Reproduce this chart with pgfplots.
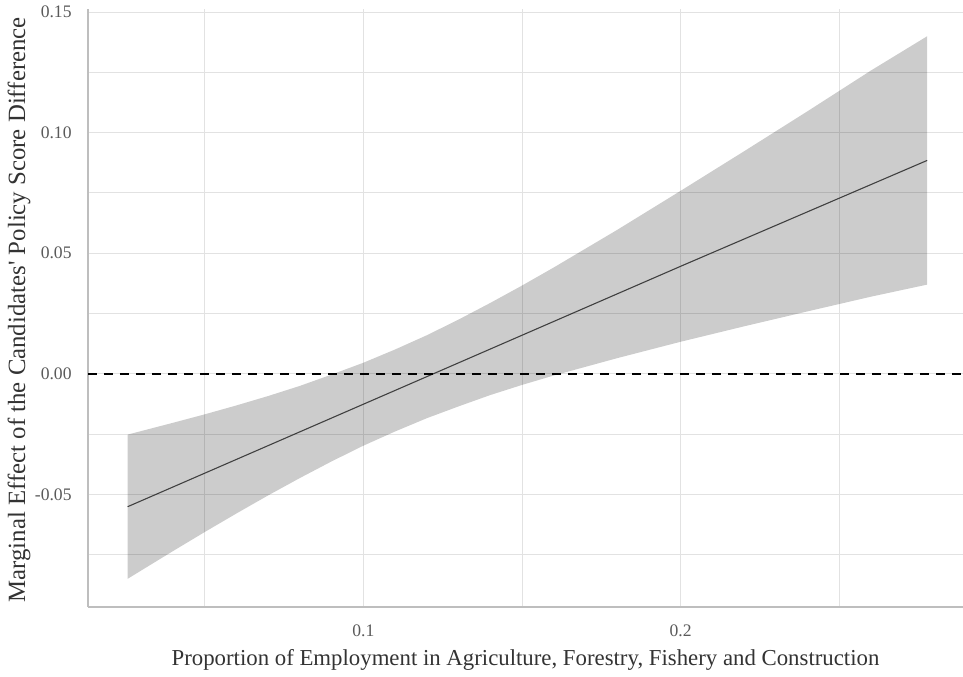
\documentclass[border=0pt]{standalone}
\usepackage{fontspec}
\setmainfont{Liberation Serif}
\usepackage{pgfplots}
\pgfplotsset{compat=1.18}
\definecolor{gridc}{HTML}{E2E2E2}
\definecolor{axc}{HTML}{BEBEBE}
\definecolor{tickc}{HTML}{5A5A5A}
\definecolor{labc}{HTML}{333333}
\definecolor{linec}{HTML}{404040}

\pgfplotstableread{
x       mid
0.0257 -0.0551
0.10   -0.0126
0.20    0.0446
0.2777  0.0885
}\midtable

\begin{document}
\begin{tikzpicture}
\useasboundingbox (-44pt,-34.5pt) rectangle (437.5pt,303.5pt);
\begin{axis}[
  at={(0pt,0pt)}, anchor=south west,
  scale only axis,
  width=437.5pt, height=299pt,
  xmin=0.0132, xmax=0.289,
  ymin=-0.0967, ymax=0.1513,
  axis x line*=bottom, axis y line*=left,
  axis line style={axc, line width=0.8pt, -},
  xtick={0.05,0.1,0.15,0.2,0.25}, xticklabels={,0.1,,0.2,},
  ytick={-0.075,-0.05,-0.025,0,0.025,0.05,0.075,0.10,0.125,0.15},
  yticklabels={,-0.05,,0.00,,0.05,,0.10,,0.15},
  major tick length=0pt,
  xmajorgrids, ymajorgrids,
  major grid style={gridc, line width=0.5pt},
  yticklabel style={font=\fontsize{8.8}{10}\selectfont, text=tickc, anchor=east, inner sep=0pt, xshift=-8pt},
  xticklabel style={font=\fontsize{8.8}{10}\selectfont, text=tickc, anchor=north, inner sep=0pt, yshift=-8.5pt},
  xlabel={Proportion of Employment in Agriculture, Forestry, Fishery and Construction},
  ylabel={Marginal Effect of the Candidates\textquotesingle{} Policy Score Difference},
  xlabel style={font=\fontsize{11.4}{13}\selectfont, text=labc, at={(axis description cs:0.5,-0.0886)}, anchor=center},
  ylabel style={font=\fontsize{12.4}{14}\selectfont, text=labc, at={(axis description cs:-0.0789,0.497)}, anchor=center},
]
% confidence band: upper edge left to right, then lower edge right to left
\addplot[fill=black, fill opacity=0.2, draw=none] coordinates {
(0.0257,-0.0252) (0.04,-0.0203) (0.05,-0.0168) (0.06,-0.0131) (0.07,-0.0092)
(0.08,-0.0050) (0.09,-0.0003) (0.10,0.0046) (0.11,0.0101) (0.12,0.0160)
(0.13,0.0225) (0.14,0.0294) (0.15,0.0366) (0.16,0.0441) (0.18,0.0597)
(0.20,0.0759) (0.22,0.0923) (0.24,0.1089) (0.26,0.1258) (0.2777,0.1400)
(0.2777,0.0370) (0.26,0.0320) (0.24,0.0259) (0.22,0.0197) (0.20,0.0133)
(0.18,0.0065) (0.16,-0.0007) (0.15,-0.0046) (0.14,-0.0088) (0.13,-0.0135)
(0.12,-0.0184) (0.11,-0.0239) (0.10,-0.0298) (0.09,-0.0363) (0.08,-0.0432)
(0.07,-0.0504) (0.06,-0.0579) (0.05,-0.0656) (0.04,-0.0735) (0.0257,-0.0850)
} -- cycle;
\addplot[linec, line width=0.55pt] table[x=x, y=mid] {\midtable};
\addplot[black, line width=0.9pt, dash pattern=on 4.5pt off 3.5pt] coordinates {(0.0132,0) (0.289,0)};
\end{axis}
\end{tikzpicture}
\end{document}
